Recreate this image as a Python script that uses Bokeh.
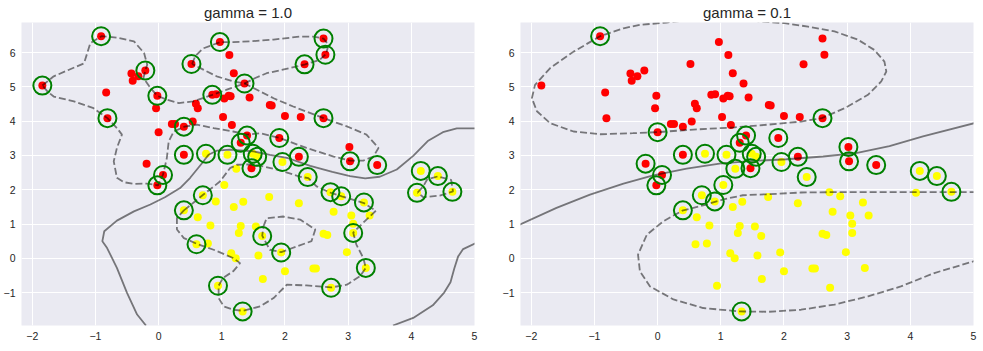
from bokeh.plotting import figure
from bokeh.layouts import row
from bokeh.models import Range1d, FixedTicker
from bokeh.embed import file_html
from bokeh.resources import INLINE

# ---- data: (x, y, support vector at gamma=1.0, support vector at gamma=0.1)
red_points = [
    (-1.84, 5.04, 1, 0), (-0.91, 6.48, 1, 1), (-0.83, 4.84, 0, 0), (-0.81, 4.09, 1, 0),
    (-0.43, 5.39, 0, 0), (-0.41, 5.18, 0, 0), (-0.32, 5.31, 0, 0), (-0.21, 5.48, 1, 0),
    (-0.02, 4.74, 1, 0), (-0.04, 4.38, 0, 0), (0.00, 3.68, 0, 1), (-0.19, 2.76, 0, 1),
    (0.21, 3.92, 0, 0), (0.26, 3.92, 0, 0), (0.40, 3.84, 1, 0), (0.54, 3.99, 0, 0),
    (0.40, 3.02, 1, 1), (0.52, 5.67, 1, 0), (0.59, 4.51, 0, 0), (0.62, 4.38, 0, 0),
    (0.85, 4.77, 1, 0), (0.91, 4.79, 0, 0), (0.97, 6.31, 1, 0), (1.12, 5.93, 0, 0),
    (1.19, 5.40, 0, 0), (1.36, 5.10, 1, 0), (1.04, 4.66, 0, 0), (1.11, 4.74, 0, 0),
    (1.14, 4.73, 0, 0), (1.02, 4.12, 0, 0), (1.16, 3.89, 0, 0), (1.44, 4.69, 0, 0),
    (2.61, 6.41, 1, 0), (2.64, 5.94, 1, 0), (2.31, 5.66, 1, 0), (1.76, 4.47, 0, 0),
    (1.79, 4.46, 0, 0), (2.00, 4.15, 0, 0), (2.25, 4.12, 0, 0), (2.61, 4.09, 1, 1),
    (1.40, 3.58, 1, 1), (1.30, 3.37, 1, 1), (1.91, 3.51, 1, 1), (3.02, 3.25, 0, 1),
    (3.03, 2.83, 1, 1), (3.46, 2.72, 1, 1), (2.22, 2.96, 1, 1), (1.47, 2.63, 1, 1),
    (0.07, 2.43, 1, 1), (-0.02, 2.13, 1, 1),
]
yellow_points = [
    (0.75, 3.05, 1, 1), (1.09, 3.02, 1, 1), (1.49, 3.05, 1, 1), (1.56, 2.96, 1, 1),
    (1.23, 2.61, 0, 1), (1.96, 2.81, 1, 1), (2.36, 2.37, 1, 1), (4.15, 2.55, 1, 1),
    (4.42, 2.40, 1, 1), (4.65, 1.94, 1, 1), (4.09, 1.91, 1, 0), (2.72, 1.93, 1, 0),
    (2.89, 1.81, 1, 0), (3.25, 1.63, 1, 0), (2.22, 1.61, 0, 0), (2.77, 1.36, 0, 0),
    (3.05, 1.25, 0, 0), (3.34, 1.25, 0, 0), (3.08, 1.01, 0, 0), (3.08, 0.74, 1, 0),
    (2.98, 0.18, 0, 0), (3.28, -0.28, 1, 0), (2.73, -0.86, 1, 0), (2.45, -0.30, 0, 0),
    (2.49, -0.30, 0, 0), (2.00, -0.38, 0, 0), (1.65, -0.60, 0, 0), (1.94, 0.17, 1, 0),
    (1.58, 0.08, 0, 0), (2.61, 0.72, 0, 0), (2.67, 0.68, 0, 0), (1.64, 0.65, 1, 0),
    (1.54, 0.93, 0, 0), (1.30, 0.94, 0, 0), (1.27, 0.74, 0, 0), (1.34, 1.65, 0, 0),
    (1.75, 1.79, 0, 0), (1.19, 1.50, 0, 0), (1.22, 0.00, 0, 0), (1.15, 0.15, 0, 0),
    (1.33, -1.55, 1, 1), (0.94, -0.80, 1, 0), (0.78, 0.43, 0, 0), (0.60, 0.41, 1, 0),
    (0.82, 0.96, 0, 0), (0.62, 1.20, 0, 0), (0.40, 1.40, 1, 1), (0.70, 1.84, 1, 1),
    (0.905, 1.66, 0, 1), (1.04, 2.14, 0, 1),
]

x_ticks = [-2, -1, 0, 1, 2, 3, 4, 5]
y_ticks = [-1, 0, 1, 2, 3, 4, 5, 6]
titles = ["gamma = 1.0", "gamma = 0.1"]

# ---- decision function contours
g1_boundary_a = [(-0.20, -1.96), (-0.34, -1.64), (-0.50, -1.01), (-0.66, -0.28), (-0.815, 0.30),
                 (-0.89, 0.50), (-0.86, 0.79), (-0.66, 1.10), (-0.39, 1.37), (-0.13, 1.57),
                 (0.10, 1.78), (0.34, 2.05), (0.50, 2.35), (0.69, 2.78), (0.79, 3.02),
                 (0.92, 3.14), (1.13, 3.17), (1.50, 3.12), (1.76, 3.02), (2.05, 2.92),
                 (2.40, 2.70), (2.75, 2.52), (3.03, 2.40), (3.27, 2.33), (3.50, 2.38),
                 (3.77, 2.59), (4.03, 2.99), (4.26, 3.42), (4.50, 3.68), (4.72, 3.79), (5.05, 3.79)]
g1_boundary_b = [(3.71, -1.96), (4.03, -1.74), (4.34, -1.37), (4.52, -1.00), (4.62, -0.70),
                 (4.68, -0.30), (4.74, 0.05), (4.82, 0.27), (5.05, 0.47)]
g1_margin_a = [(-1.84, 5.04), (-1.66, 5.31), (-1.18, 5.69), (-1.08, 6.28), (-0.905, 6.48),
               (-0.66, 6.44), (-0.39, 6.33), (-0.23, 5.99), (-0.18, 5.65), (-0.21, 5.48),
               (-0.24, 5.26), (-0.13, 4.97), (-0.02, 4.74), (0.13, 4.63), (0.32, 4.53),
               (0.55, 4.58), (0.85, 4.77), (1.08, 4.92), (1.36, 5.10), (1.50, 4.97),
               (1.82, 4.67), (2.13, 4.43), (2.61, 4.09), (2.98, 3.85), (3.29, 3.61),
               (3.48, 3.22), (3.40, 2.97), (3.24, 2.85), (3.03, 2.85), (2.77, 2.97),
               (2.34, 3.22), (1.92, 3.51), (1.61, 3.65), (1.40, 3.61), (1.18, 3.70),
               (0.87, 3.80), (0.61, 3.90), (0.41, 3.84), (0.24, 3.70), (0.16, 3.41),
               (0.13, 2.92), (0.07, 2.44), (-0.01, 2.13), (-0.18, 2.18), (-0.39, 2.17),
               (-0.55, 2.22), (-0.66, 2.35), (-0.71, 2.83), (-0.66, 3.22), (-0.58, 3.61),
               (-0.66, 3.80), (-0.81, 4.09), (-1.03, 4.38), (-1.34, 4.58), (-1.66, 4.72),
               (-1.76, 4.87), (-1.84, 5.04)]
g1_margin_b = [(0.53, 5.67), (0.58, 5.90), (0.70, 6.12), (0.975, 6.31), (1.18, 6.31),
               (1.45, 6.33), (1.82, 6.38), (2.24, 6.47), (2.45, 6.47), (2.61, 6.41),
               (2.69, 6.23), (2.65, 5.96), (2.55, 5.79), (2.32, 5.66), (2.08, 5.55),
               (1.71, 5.40), (1.53, 5.26), (1.36, 5.10), (1.18, 5.16), (0.92, 5.31),
               (0.66, 5.55), (0.53, 5.67)]
g1_margin_c = [(0.40, 1.40), (0.55, 1.62), (0.71, 1.86), (0.97, 2.24), (1.13, 2.63),
               (1.24, 2.73), (1.45, 2.74), (1.66, 2.68), (1.95, 2.55), (2.24, 2.38),
               (2.37, 2.34), (2.50, 2.10), (2.71, 1.92), (2.90, 1.81), (3.25, 1.61),
               (3.44, 1.39), (3.29, 1.13), (3.08, 0.75), (3.13, 0.40), (3.24, 0.01),
               (3.28, -0.28), (3.19, -0.52), (2.98, -0.77), (2.73, -0.85), (2.34, -0.79),
               (2.03, -0.77), (1.82, -1.16), (1.61, -1.40), (1.34, -1.53), (1.18, -1.50),
               (1.03, -1.40), (0.95, -1.16), (0.95, -0.80), (1.02, -0.57), (1.18, -0.38),
               (1.29, -0.14), (1.18, 0.01), (0.87, 0.25), (0.61, 0.42), (0.40, 0.59),
               (0.29, 0.84), (0.29, 1.17), (0.40, 1.40)]
g1_margin_d = [(1.66, 0.93), (1.71, 1.17), (1.97, 1.22), (2.24, 1.13), (2.48, 0.84),
               (2.42, 0.50), (2.19, 0.35), (1.94, 0.18), (1.76, 0.25), (1.64, 0.66), (1.66, 0.93)]
g1_margin_e = [(4.10, 1.92), (4.19, 2.10), (4.25, 2.30), (4.42, 2.39), (4.63, 2.29),
               (4.66, 1.95), (4.45, 1.83), (4.19, 1.78), (4.10, 1.92)]

g01_boundary = [(-2.25, 0.93), (-1.60, 1.47), (-1.07, 1.86), (-0.54, 2.18), (-0.07, 2.42),
                (0.46, 2.62), (0.98, 2.76), (1.51, 2.84), (2.04, 2.89), (2.62, 2.97),
                (3.14, 3.07), (3.67, 3.27), (4.20, 3.56), (5.05, 3.96)]
g01_margin_a = [(1.50, 6.93), (2.01, 6.86), (2.38, 6.76), (2.80, 6.62), (3.17, 6.38),
                (3.43, 6.08), (3.59, 5.74), (3.62, 5.45), (3.54, 5.16), (3.33, 4.77),
                (2.96, 4.38), (2.60, 4.09), (2.27, 3.99), (1.75, 3.90), (1.22, 3.82),
                (0.51, 3.75), (0.00, 3.68), (-0.39, 3.65), (-0.91, 3.62), (-1.33, 3.70),
                (-1.70, 3.94), (-1.91, 4.29), (-1.99, 4.67), (-1.94, 5.06), (-1.70, 5.55),
                (-1.33, 6.03), (-0.91, 6.48), (-0.54, 6.71), (-0.28, 6.81), (0.14, 6.88),
                (0.40, 6.93)]
g01_margin_b = [(5.05, 1.93), (4.38, 1.93), (3.85, 1.93), (3.33, 1.93), (2.80, 1.93),
                (2.27, 1.92), (1.75, 1.87), (1.35, 1.84), (1.04, 1.72), (0.77, 1.57),
                (0.39, 1.39), (0.09, 1.08), (-0.17, 0.69), (-0.31, 0.11), (-0.28, -0.38),
                (-0.12, -0.82), (0.25, -1.20), (0.72, -1.45), (1.30, -1.55), (1.75, -1.56),
                (2.27, -1.50), (2.80, -1.35), (3.33, -1.11), (3.85, -0.82), (4.38, -0.43),
                (5.05, -0.06)]

panels = [
    dict(title=titles[0], sv=2, solid=[g1_boundary_a, g1_boundary_b],
         dashed=[g1_margin_a, g1_margin_b, g1_margin_c, g1_margin_d, g1_margin_e],
         bl=21, br=23),
    dict(title=titles[1], sv=3, solid=[g01_boundary],
         dashed=[g01_margin_a, g01_margin_b], bl=23, br=10),
]

FONT = "Liberation Sans"
TEXT = "#262626"


def make_panel(cfg):
    p = figure(frame_width=453, frame_height=303,
               x_range=Range1d(-2.17, 5.0), y_range=Range1d(-1.96, 6.88),
               output_backend="svg", toolbar_location=None, title=cfg["title"],
               min_border_left=cfg["bl"], min_border_right=cfg["br"],
               min_border_top=21, min_border_bottom=27)
    p.title.align = "center"
    p.title.text_font = FONT
    p.title.text_font_size = "15px"
    p.title.text_font_style = "normal"
    p.title.text_color = TEXT
    p.title.standoff = 3
    p.background_fill_color = "#EAEAF2"
    p.border_fill_color = "white"
    p.outline_line_color = None
    p.grid.grid_line_color = "white"
    p.grid.grid_line_width = 1
    p.xaxis.ticker = FixedTicker(ticks=x_ticks)
    p.yaxis.ticker = FixedTicker(ticks=y_ticks)
    over = {t: ("\u2212" + str(-t) if t < 0 else str(t)) for t in x_ticks + y_ticks}
    for ax in (p.xaxis[0], p.yaxis[0]):
        ax.axis_line_color = None
        ax.major_tick_line_color = None
        ax.minor_tick_line_color = None
        ax.major_tick_out = 0
        ax.major_tick_in = 0
        ax.major_label_text_font = FONT
        ax.major_label_text_font_size = "10.5px"
        ax.major_label_text_color = TEXT
        ax.major_label_standoff = 6
        ax.major_label_overrides = over

    p.scatter([pt[0] for pt in red_points], [pt[1] for pt in red_points],
              size=8, fill_color="#ff0000", line_color=None)
    p.scatter([pt[0] for pt in yellow_points], [pt[1] for pt in yellow_points],
              size=8, fill_color="#ffff00", line_color=None)

    for path in cfg["solid"]:
        p.line([a for a, b in path], [b for a, b in path], line_color="black",
               line_alpha=0.5, line_width=1.8)
    for path in cfg["dashed"]:
        p.line([a for a, b in path], [b for a, b in path], line_color="black",
               line_alpha=0.5, line_width=1.8, line_dash="7 3")

    k = cfg["sv"]
    sv = [pt for pt in red_points + yellow_points if pt[k]]
    p.scatter([pt[0] for pt in sv], [pt[1] for pt in sv], size=18,
              fill_color=None, line_color="green", line_width=2)
    return p


layout = row(*[make_panel(c) for c in panels])
open("out.html", "w").write(file_html(layout, INLINE))
